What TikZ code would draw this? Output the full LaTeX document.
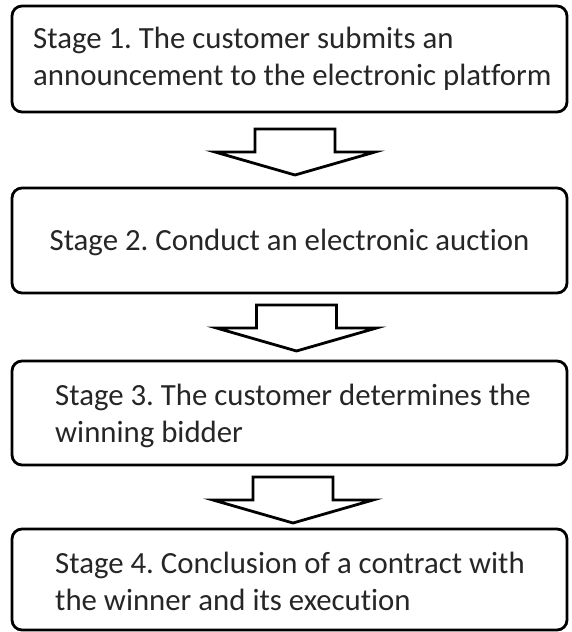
\documentclass[tikz,border=0pt]{standalone}
\usepackage{fontspec}
\setmainfont{Carlito}[Ligatures=NoCommon]
\frenchspacing
\begin{document}
\begin{tikzpicture}[x=1pt,y=-1pt,
  stagebox/.style={draw=black, line width=2.8pt, rounded corners=10pt, fill=white, inner sep=0pt},
  lbl/.style={inner sep=0pt, font=\fontsize{30.8}{37}\selectfont, text=black!85},
  arrowline/.style={draw=black, line width=2.8pt, fill=white, line join=miter},
  barrow/.pic={\draw[arrowline] (-40,0) -- (40,0) -- (40,23) -- (80,23) -- (0,46) -- (-80,23) -- (-40,23) -- cycle;}
]
\useasboundingbox (0,0) rectangle (571,632);
% boxes
\node[stagebox, minimum width=555pt, minimum height=106pt] (s1) at (289.5,59) {};
\node[stagebox, minimum width=555pt, minimum height=105pt] (s2) at (289.5,240.5) {};
\node[stagebox, minimum width=555pt, minimum height=104pt] (s3) at (289.5,413) {};
\node[stagebox, minimum width=555pt, minimum height=101pt] (s4) at (289.5,579.5) {};
% texts
\node[lbl, anchor=base west] (t1a) at (33,48) {Stage 1. The customer submits an};
\node[lbl, anchor=base west] (t1b) at (33,85) {announcement to the electronic platform};
\node[lbl, anchor=base] (t2) at (s2.center |- 0,250) {Stage 2. Conduct an electronic auction};
\node[lbl, anchor=base west] (t3a) at (55,405) {Stage 3. The customer determines the};
\node[lbl, anchor=base west] (t3b) at (55,442) {winning bidder};
\node[lbl, anchor=base west] (t4a) at (55,573) {Stage 4. Conclusion of a contract with};
\node[lbl, anchor=base west] (t4b) at (55,610) {the winner and its execution};
% block arrows
\coordinate (a1) at (295,129);
\coordinate (a2) at (296.5,305);
\coordinate (a3) at (293,477);
\pic at (a1) {barrow};
\pic at (a2) {barrow};
\pic at (a3) {barrow};
\end{tikzpicture}
\end{document}
